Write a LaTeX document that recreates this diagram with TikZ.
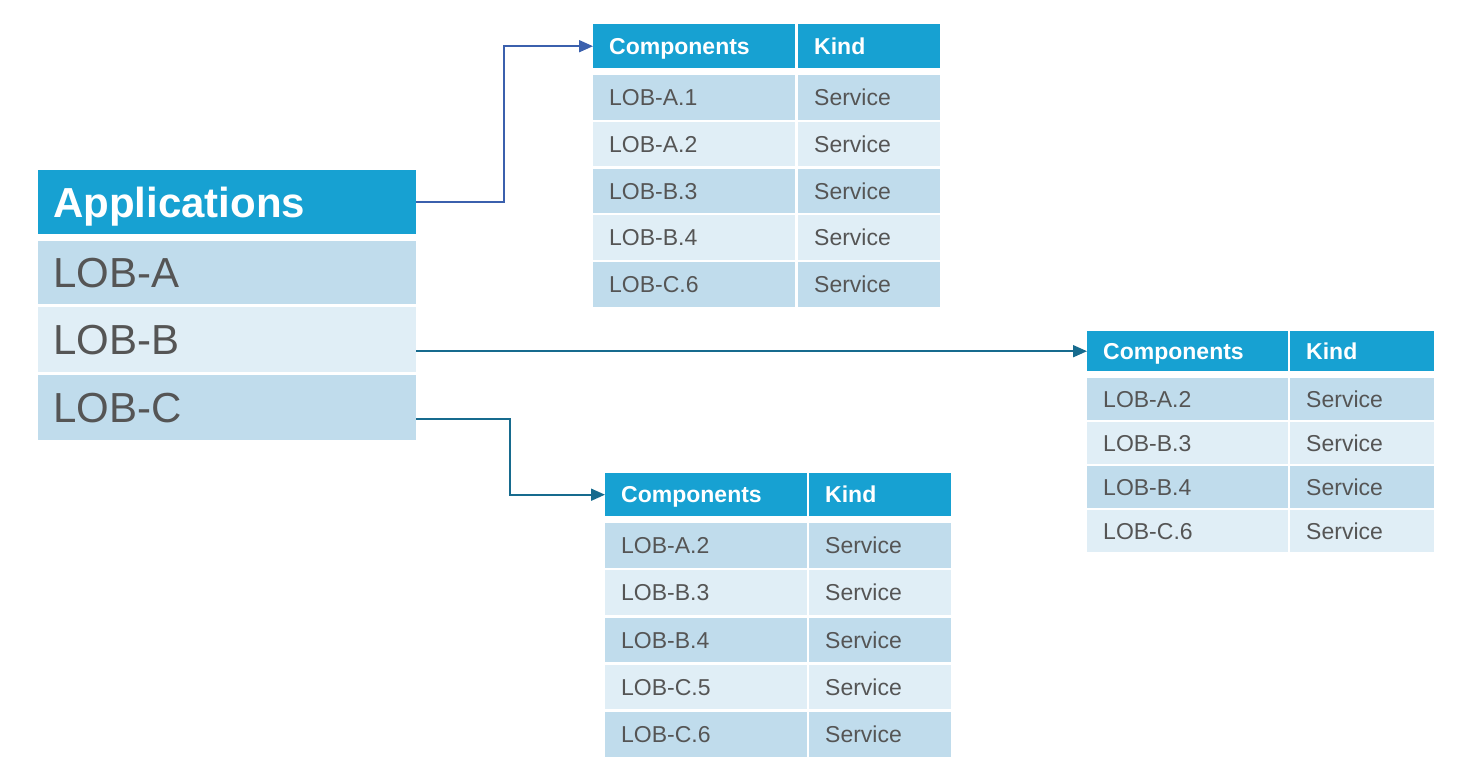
\documentclass[tikz,border=0pt]{standalone}
\usepackage{fontspec}
\setmainfont{Liberation Sans}
\usetikzlibrary{arrows.meta}
\definecolor{hdrblue}{HTML}{17A1D2}
\definecolor{darkrow}{HTML}{C0DCEC}
\definecolor{lightrow}{HTML}{E0EEF6}
\definecolor{txtgray}{HTML}{555555}
\definecolor{arrowblue}{HTML}{3B60AD}
\definecolor{arrowteal}{HTML}{176B8E}
\tikzset{
  cell/.style={anchor=north west, inner xsep=16pt, inner ysep=0pt, align=left,
    text=txtgray, font=\fontsize{23}{26}\selectfont, text height=16.5pt, text depth=0pt},
  hdr/.style={cell, fill=hdrblue, text=white, font=\bfseries\fontsize{23}{26}\selectfont},
  bigcell/.style={cell, inner xsep=15pt, text width=348pt, font=\fontsize{42}{46}\selectfont, text height=30pt},
  bighdr/.style={bigcell, fill=hdrblue, text=white, font=\bfseries\fontsize{42}{46}\selectfont},
  conn/.style={line width=1.8pt, -{Triangle[length=14pt,width=12pt]}},
}
\begin{document}
\begin{tikzpicture}[x=1pt,y=-1pt]
\useasboundingbox (0,0) rectangle (1462,780);
% left table
\node[bighdr, minimum height=64pt] (app) at (38,170) {Applications};
\node[bigcell, fill=darkrow, minimum height=63pt] (lobA) at (38,241) {LOB-A};
\node[bigcell, fill=lightrow, minimum height=65pt] (lobB) at (38,307) {LOB-B};
\node[bigcell, fill=darkrow, minimum height=65pt] (lobC) at (38,375) {LOB-C};
% top table
\node[hdr, text width=170pt, minimum height=44pt] (tah) at (593,24) {Components};
\node[hdr, text width=110pt, minimum height=44pt] (tak) at (798,24) {Kind};
\foreach \i/\a/\f in {1/LOB-A.1/darkrow,2/LOB-A.2/lightrow,3/LOB-B.3/darkrow,4/LOB-B.4/lightrow,5/LOB-C.6/darkrow}{
  \node[cell, fill=\f, text width=170pt, minimum height=44.5pt] (ta\i) at (593,{75+46.75*(\i-1)}) {\a};
  \node[cell, fill=\f, text width=110pt, minimum height=44.5pt] (tb\i) at (798,{75+46.75*(\i-1)}) {Service};
}
% right table
\node[hdr, text width=169pt, minimum height=40pt] (rah) at (1087,331) {Components};
\node[hdr, text width=112pt, minimum height=40pt] (rak) at (1290,331) {Kind};
\foreach \i/\a/\f in {1/LOB-A.2/darkrow,2/LOB-B.3/lightrow,3/LOB-B.4/darkrow,4/LOB-C.6/lightrow}{
  \node[cell, fill=\f, text width=169pt, minimum height=41.5pt] (ra\i) at (1087,{378+44*(\i-1)}) {\a};
  \node[cell, fill=\f, text width=112pt, minimum height=41.5pt] (rb\i) at (1290,{378+44*(\i-1)}) {Service};
}
% bottom table
\node[hdr, text width=170pt, minimum height=43pt] (bah) at (605,473) {Components};
\node[hdr, text width=110pt, minimum height=43pt] (bak) at (809,473) {Kind};
\foreach \i/\a/\f in {1/LOB-A.2/darkrow,2/LOB-B.3/lightrow,3/LOB-B.4/darkrow,4/LOB-C.5/lightrow,5/LOB-C.6/darkrow}{
  \node[cell, fill=\f, text width=170pt, minimum height=44.5pt] (ba\i) at (605,{523+47.25*(\i-1)}) {\a};
  \node[cell, fill=\f, text width=110pt, minimum height=44.5pt] (bb\i) at (809,{523+47.25*(\i-1)}) {Service};
}
% connectors
\coordinate (k1) at (504,0);
\coordinate (k3) at (510,0);
\draw[conn, color=arrowblue] (app.east) -| (k1 |- tah.west) -- (tah.west);
\draw[conn, color=arrowteal] (lobB.east |- rah.west) -- (rah.west);
\draw[conn, color=arrowteal] ([yshift=-11.5pt]lobC.east) -| (k3 |- bah.west) -- (bah.west);
\end{tikzpicture}
\end{document}
